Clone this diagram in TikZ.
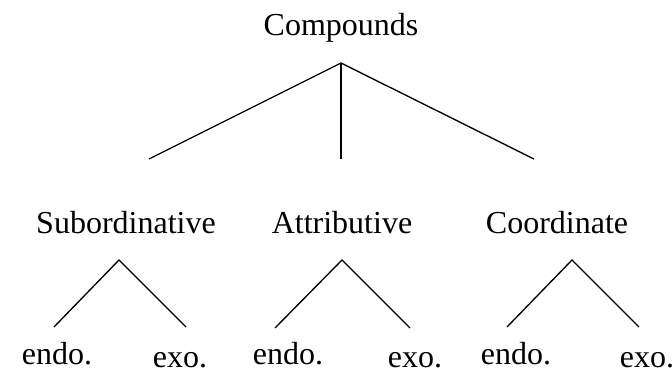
\documentclass[tikz,border=0pt]{standalone}
\usepackage{fontspec}
\setmainfont{Liberation Serif}
\usepackage{tikz}

\tikzset{
  lbl/.style={anchor=base,inner sep=0pt,font=\fontsize{24}{28}\selectfont},
  branch/.style={line width=1pt}
}

\begin{document}
\begin{tikzpicture}[x=0.75pt,y=-0.75pt]
\useasboundingbox (0,0) rectangle (672,371);
% top level
\node[lbl] (cmp) at (341,36) {Compounds};
\coordinate (cmpFork) at (341,63);
\coordinate (cmpL) at (149,159);
\coordinate (cmpM) at (341,159);
\coordinate (cmpR) at (534,159);
\draw[branch] (cmpL) -- (cmpFork) -- (cmpR);
\draw[branch] (cmpFork) -- (cmpM);
% second level
\node[lbl] (sub) at (126,233) {Subordinative};
\node[lbl] (att) at (342,233) {Attributive};
\node[lbl] (crd) at (557,233) {Coordinate};
% subordinative
\coordinate (subFork) at (119,260);
\coordinate (subL) at (54,327);
\coordinate (subR) at (186,327);
\draw[branch] (subL) -- (subFork) -- (subR);
\node[lbl] (subEndo) at (57,364) {endo.};
\node[lbl] (subExo) at (180,367) {exo.};
% attributive
\coordinate (attFork) at (342,260);
\coordinate (attL) at (275,328);
\coordinate (attR) at (410,328);
\draw[branch] (attL) -- (attFork) -- (attR);
\node[lbl] (attEndo) at (288,364) {endo.};
\node[lbl] (attExo) at (415,367) {exo.};
% coordinate
\coordinate (crdFork) at (572,260);
\coordinate (crdL) at (507,327);
\coordinate (crdR) at (639,327);
\draw[branch] (crdL) -- (crdFork) -- (crdR);
\node[lbl] (crdEndo) at (516,364) {endo.};
\node[lbl] (crdExo) at (647,367) {exo.};
\end{tikzpicture}
\end{document}
